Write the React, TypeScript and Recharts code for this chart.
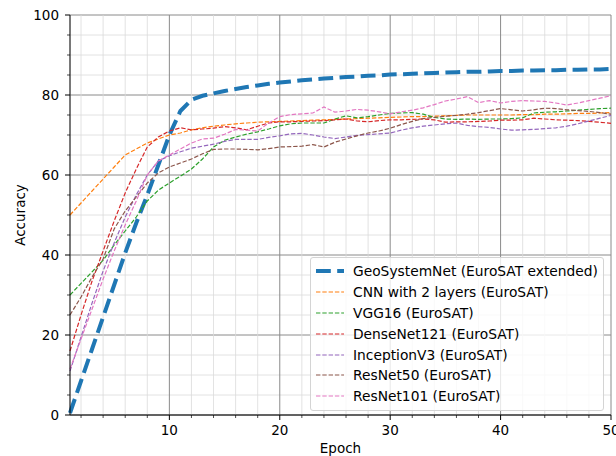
import React from 'react';
import { LineChart, Line, XAxis, YAxis, CartesianGrid, Legend, Label } from 'recharts';

const EPOCHS = [
  1, 2, 3, 4, 5, 6, 7, 8, 9, 10, 11, 12, 13, 14, 15, 16, 17, 18, 19, 20, 21, 22, 23, 24, 25,
  26, 27, 28, 29, 30, 31, 32, 33, 34, 35, 36, 37, 38, 39, 40, 41, 42, 43, 44, 45, 46, 47, 48, 49, 50,
];

const GEO = [
  0.5, 8.5, 16.5, 24.5, 32.5, 40.5, 48, 55, 62.5, 70, 76, 78.8, 79.8, 80.4, 81, 81.5, 82, 82.4, 82.8, 83.1,
  83.4, 83.7, 83.9, 84.1, 84.3, 84.5, 84.6, 84.8, 84.9, 85.1, 85.2, 85.3, 85.4, 85.5, 85.6, 85.7, 85.8, 85.8,
  85.9, 86.0, 86.0, 86.1, 86.1, 86.2, 86.2, 86.3, 86.3, 86.4, 86.4, 86.5,
];
const CNN = [
  50, 53, 56, 59, 62, 65, 66.5, 68, 69, 70, 70.5, 71.3, 71.8, 72.2, 72.5, 72.8, 73, 73.2, 73.3, 73.4,
  73.5, 73.6, 73.7, 73.8, 73.9, 74.0, 74.1, 74.2, 74.3, 74.4, 74.5, 74.6, 74.6, 74.7, 74.8, 74.9, 75, 75,
  75, 75, 75, 75.1, 75.1, 75.2, 75.2, 75.3, 75.4, 75.4, 75.5, 75.6,
];
const VGG16 = [
  30, 32.9, 35.8, 38.7, 42.5, 46, 49.5, 53.5, 56.2, 58, 59.7, 61.5, 64, 67, 68.7, 69.5, 70.2, 70.8, 71.5, 72.3,
  72.8, 73.0, 73.0, 73.0, 74.0, 74.8, 74.3, 74.6, 75.0, 75.4, 75.5, 75.6, 75.2, 74.4, 74.0, 73.9, 74.0, 73.9,
  74.0, 74.0, 74.1, 74.3, 75.5, 75.7, 75.8, 76.0, 76.2, 76.4, 76.6, 76.7,
];
const DENSENET = [
  16, 25, 33.5, 41, 48.5, 55.5, 61.5, 67, 69.5, 71, 71.8, 71.3, 71.5, 71.7, 72.1, 71.8, 71.3, 72.2, 73, 73.3,
  73.3, 73.4, 73.5, 73.6, 73.8, 74.0, 73.5, 73.3, 73.6, 73.8, 73.8, 73.9, 74, 73.8, 73.2, 73.3, 73.3, 73.4,
  73.5, 73.7, 73.7, 73.8, 74.2, 74.0, 73.8, 73.7, 73.6, 73.4, 73.2, 72.9,
];
const INCEPTION = [
  11, 19.5, 28, 36, 43, 49.5, 55, 60, 63.5, 64.8, 65.8, 66.7, 67.2, 67.7, 68.4, 68.9, 68.9, 68.9, 69.4, 69.8,
  70.3, 70.4, 70.0, 69.5, 69.1, 69.5, 69.9, 70.1, 70.3, 70.5, 71.2, 71.8, 72.2, 72.5, 72.8, 73.0, 72.4, 72.1,
  71.9, 71.5, 71.2, 71.3, 71.4, 71.6, 71.8, 72.2, 72.8, 73.5, 74.2, 74.9,
];
const RESNET50 = [
  25, 29.5, 34.5, 39, 46.5, 51, 54.5, 58, 60.5, 62, 63, 64, 65.3, 66.4, 66.5, 66.5, 66.4, 66.3, 66.6, 67,
  67.1, 67.2, 67.6, 67.0, 68.2, 69.0, 69.8, 70.5, 71.0, 71.7, 72.6, 73.4, 74.1, 74.4, 74.7, 74.9, 75.2, 75.6,
  76.1, 76.6, 76.3, 76.0, 76.3, 76.7, 76.6, 76.3, 76.1, 75.9, 75.6, 75.2,
];
const RESNET101 = [
  11.5, 19, 26.5, 34, 41, 47.5, 53.5, 60, 63.5, 65, 66.5, 68, 69, 69.2, 70.2, 71.4, 71.2, 71.0, 73, 74.6,
  75.1, 75.3, 75.5, 77.0, 75.7, 76.0, 76.4, 76.2, 75.8, 75.3, 75.8, 76.2, 76.8, 77.6, 78.5, 79.0, 79.6, 78.1,
  78.6, 78.0, 78.4, 78.6, 78.5, 78.4, 78.0, 77.5, 78.0, 78.6, 79.2, 79.8,
];

const X_TICKS = [2, 4, 6, 8, 10, 12, 14, 16, 18, 20, 22, 24, 26, 28, 30, 32, 34, 36, 38, 40, 42, 44, 46, 48, 50];
const Y_TICKS = [0, 5, 10, 15, 20, 25, 30, 35, 40, 45, 50, 55, 60, 65, 70, 75, 80, 85, 90, 95, 100];

const SERIES = [
  { key: 'geo', name: 'GeoSystemNet (EuroSAT extended)', color: '#1f77b4', width: 4, dash: '14.8 6.4' },
  { key: 'cnn', name: 'CNN with 2 layers (EuroSAT)', color: '#ff7f0e', width: 1.2, dash: '4.4 1.9' },
  { key: 'vgg', name: 'VGG16 (EuroSAT)', color: '#2ca02c', width: 1.2, dash: '4.4 1.9' },
  { key: 'dense', name: 'DenseNet121 (EuroSAT)', color: '#d62728', width: 1.2, dash: '4.4 1.9' },
  { key: 'incep', name: 'InceptionV3 (EuroSAT)', color: '#9467bd', width: 1.2, dash: '4.4 1.9' },
  { key: 'res50', name: 'ResNet50 (EuroSAT)', color: '#8c564b', width: 1.2, dash: '4.4 1.9' },
  { key: 'res101', name: 'ResNet101 (EuroSAT)', color: '#e377c2', width: 1.2, dash: '4.4 1.9' },
];

const data = EPOCHS.map((epoch, i) => ({
  epoch,
  geo: GEO[i],
  cnn: CNN[i],
  vgg: VGG16[i],
  dense: DENSENET[i],
  incep: INCEPTION[i],
  res50: RESNET50[i],
  res101: RESNET101[i],
}));

const FONT = '"DejaVu Sans", sans-serif';

// major grid lines every 10 epochs / 20 %, minor ones in between
const gridLine = (values: number[], majorEvery: number) => (props: any) => {
  const v = values[props.index];
  const major = v !== undefined && v % majorEvery === 0;
  return (
    <line
      key={`g-${props.index}`}
      x1={props.x1}
      y1={props.y1}
      x2={props.x2}
      y2={props.y2}
      stroke={major ? '#8a8a8a' : '#dadada'}
      strokeWidth={major ? 1 : 0.8}
    />
  );
};

const XTick = ({ x, y, payload }: any) => {
  const major = payload.value % 10 === 0;
  return (
    <g>
      <line x1={x} x2={x} y1={y} y2={y + (major ? 5 : 3)} stroke="#000" strokeWidth={major ? 1 : 0.7} />
      {major && (
        <text x={x} y={y + 20} textAnchor="middle" fontSize={13.5} fontFamily={FONT} fill="#000">
          {payload.value}
        </text>
      )}
    </g>
  );
};

const YTick = ({ x, y, payload }: any) => {
  const major = payload.value % 20 === 0;
  return (
    <g>
      <line x1={x} x2={x - (major ? 5 : 3)} y1={y} y2={y} stroke="#000" strokeWidth={major ? 1 : 0.7} />
      {major && (
        <text x={x - 11} y={y + 5} textAnchor="end" fontSize={13.5} fontFamily={FONT} fill="#000">
          {payload.value}
        </text>
      )}
    </g>
  );
};

const renderLegend = () => (
  <div
    style={{
      width: 294,
      boxSizing: 'border-box',
      border: '1px solid #d4d4d4',
      borderRadius: 3,
      background: 'rgba(255,255,255,0.8)',
      padding: '3px 4px 3px 5px',
      fontFamily: FONT,
      fontSize: 13.8,
      color: '#000',
    }}
  >
    {SERIES.map((s) => (
      <div key={s.key} style={{ display: 'flex', alignItems: 'center', height: 20.8 }}>
        <svg width={28} height={10} style={{ flexShrink: 0 }}>
          <line x1={0} y1={5} x2={28} y2={5} stroke={s.color} strokeWidth={s.width} strokeDasharray={s.dash} />
        </svg>
        <span style={{ marginLeft: 9, whiteSpace: 'nowrap' }}>{s.name}</span>
      </div>
    ))}
  </div>
);

export default function App() {
  return (
    <div style={{ position: 'absolute', left: 0, top: 0, background: '#fff' }}>
      <LineChart width={616} height={456} data={data} margin={{ top: 15, right: 5, bottom: 0, left: 0 }}>
        <CartesianGrid horizontal={gridLine(Y_TICKS, 20)} vertical={gridLine(X_TICKS, 10)} />
        <XAxis
          dataKey="epoch"
          type="number"
          domain={[1, 50]}
          ticks={X_TICKS}
          interval={0}
          height={41}
          tickSize={0}
          tickMargin={0}
          tickLine={false}
          tick={<XTick />}
          axisLine={{ stroke: '#000' }}
        >
          <Label
            content={({ viewBox }: any) => (
              <text
                x={viewBox.x + viewBox.width / 2}
                y={viewBox.y + 38}
                textAnchor="middle"
                fontSize={13.5}
                fontFamily={FONT}
                fill="#000"
              >
                Epoch
              </text>
            )}
          />
        </XAxis>
        <XAxis
          xAxisId="top"
          orientation="top"
          dataKey="epoch"
          type="number"
          domain={[1, 50]}
          height={0}
          tick={false}
          tickLine={false}
          axisLine={{ stroke: '#000' }}
        />
        <YAxis
          type="number"
          domain={[0, 100]}
          ticks={Y_TICKS}
          interval={0}
          width={70}
          tickSize={0}
          tickMargin={0}
          tickLine={false}
          tick={<YTick />}
          axisLine={{ stroke: '#000' }}
        >
          <Label
            content={({ viewBox }: any) => {
              const cx = viewBox.x + 20;
              const cy = viewBox.y + viewBox.height / 2;
              return (
                <text
                  x={cx}
                  y={cy}
                  transform={`rotate(-90, ${cx}, ${cy})`}
                  textAnchor="middle"
                  dominantBaseline="central"
                  fontSize={13.5}
                  fontFamily={FONT}
                  fill="#000"
                >
                  Accuracy
                </text>
              );
            }}
          />
        </YAxis>
        <YAxis
          yAxisId="right"
          orientation="right"
          type="number"
          domain={[0, 100]}
          width={0}
          tick={false}
          tickLine={false}
          axisLine={{ stroke: '#000' }}
        />
        {SERIES.map((s) => (
          <Line
            key={s.key}
            type="linear"
            dataKey={s.key}
            name={s.name}
            stroke={s.color}
            strokeWidth={s.width}
            strokeDasharray={s.dash}
            dot={false}
            activeDot={false}
            isAnimationActive={false}
          />
        ))}
        <Legend
          layout="horizontal"
          verticalAlign="middle"
          align="center"
          content={renderLegend}
          wrapperStyle={{ left: 310, top: 257, width: 294 }}
        />
      </LineChart>
    </div>
  );
}
